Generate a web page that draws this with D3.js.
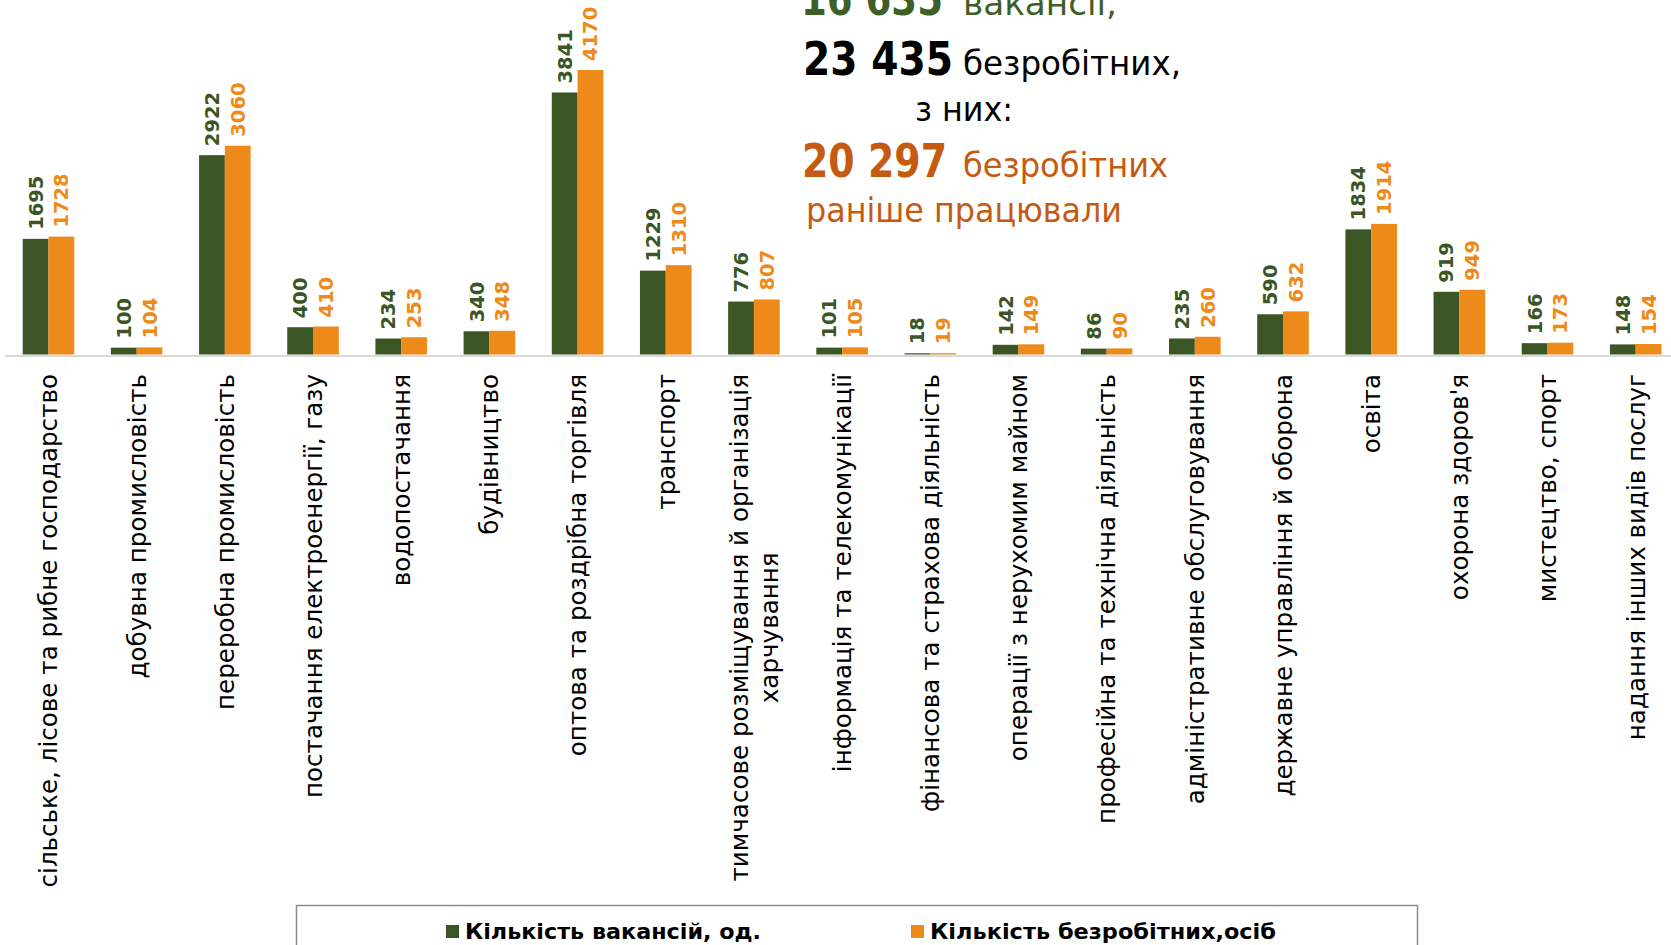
<!DOCTYPE html>
<html>
<head>
<meta charset="utf-8">
<script src="https://cdn.jsdelivr.net/npm/d3@7"></script>
<style>
  body { margin: 0; background: #fff; }
  svg { display: block; }
</style>
</head>
<body>
<div id="chart"></div>
<script>
// categories (| marks a line break in the axis label)
const categories = [
  "сільське, лісове та рибне господарство",
  "добувна промисловість",
  "переробна промисловість",
  "постачання електроенергії, газу",
  "водопостачання",
  "будівництво",
  "оптова та роздрібна торгівля",
  "транспорт",
  "тимчасове розміщування й організація|харчування",
  "інформація та телекомунікації",
  "фінансова та страхова діяльність",
  "операції з нерухомим майном",
  "професійна та технічна діяльність",
  "адміністративне обслуговування",
  "державне управління й оборона",
  "освіта",
  "охорона здоров'я",
  "мистецтво, спорт",
  "надання інших видів послуг"
];
const vacancies = [1695, 100, 2922, 400, 234, 340, 3841, 1229, 776, 101, 18, 142, 86, 235, 590, 1834, 919, 166, 148];
const unemployed = [1728, 104, 3060, 410, 253, 348, 4170, 1310, 807, 105, 19, 149, 90, 260, 632, 1914, 949, 173, 154];
const seriesNames = ["Кількість вакансій, од.", "Кількість безробітних,осіб"];
const seriesColors = ["#3b5624", "#ed8a19"];

const W = 1671, H = 945;
const svg = d3.select("#chart").append("svg")
  .attr("width", W)
  .attr("height", H);

var x = d3.scaleBand()
  .domain(d3.range(categories.length))
  .range([4.4, 1679.8])
  .paddingInner(0.415)
  .paddingOuter(0.2075);
var xs = d3.scaleBand().domain([0, 1]).range([0, x.bandwidth()]);
var y = d3.scaleLinear().domain([0, 5000]).range([354.5, 13.4]);

var rows = categories.map((c, i) => ({ i: i, vals: [vacancies[i], unemployed[i]] }));

// axis line only
svg.append("g")
  .attr("transform", "translate(0," + 355.5 + ")")
  .call(d3.axisBottom(x).tickSize(0).tickFormat(""))
  .call(g => g.select(".domain").attr("stroke", "#d9d9d9").attr("stroke-width", 2));

var groups = svg.append("g").selectAll("g")
  .data(rows)
  .join("g")
  .attr("transform", d => "translate(" + x(d.i) + ",0)");

groups.selectAll("rect")
  .data(d => d.vals.map((v, k) => ({ k: k, v: v })))
  .join("rect")
  .attr("x", d => xs(d.k))
  .attr("width", xs.bandwidth())
  .attr("y", d => y(d.v))
  .attr("height", d => y(0) - y(d.v))
  .attr("fill", d => seriesColors[d.k]);

groups.selectAll("text.val")
  .data(d => d.vals.map((v, k) => ({ k: k, v: v })))
  .join("text")
  .attr("class", "val")
  .attr("transform", d => "translate(" + (xs(d.k) + xs.bandwidth() / 2) + "," + (y(d.v) - 9) + ") rotate(-90)")
  .attr("dy", "0.36em")
  .attr("text-anchor", "start")
  .style("font-family", "'DejaVu Sans', Verdana, sans-serif")
  .style("font-weight", "bold")
  .style("font-size", "19.5px")
  .attr("fill", d => seriesColors[d.k])
  .text(d => d.v);

// category labels, rotated
var catLabels = svg.append("g").selectAll("g")
  .data(rows)
  .join("g")
  .attr("transform", d => "translate(" + (x(d.i) + x.bandwidth() / 2) + ",374) rotate(-90)");

catLabels.each(function(d) {
  var lines = categories[d.i].split("|");
  var g = d3.select(this);
  var n = lines.length;
  var first = g.append("text")
    .attr("text-anchor", "end")
    .attr("x", 0)
    .attr("dy", (0.36 - (n - 1) * 0.6) + "em")
    .style("font-family", "'DejaVu Sans', Verdana, sans-serif")
    .style("font-size", "24.6px")
    .text(lines[0]);
  var L = first.node().getComputedTextLength();
  for (var j = 1; j < n; j++) {
    g.append("text")
      .attr("text-anchor", "middle")
      .attr("x", -L / 2)
      .attr("dy", (0.36 - (n - 1) * 0.6 + j * 1.2) + "em")
      .text(lines[j]);
  }
});
catLabels.selectAll("text")
  .style("font-family", "'DejaVu Sans', Verdana, sans-serif")
  .style("font-size", "24.6px")
  .attr("fill", "#000");

// headline block
var headline = [
  { t: "16 635", x: 801, yb: 15, w: 142, bold: true, size: 46, c: "#3e5f27" },
  { t: "вакансії,", x: 963, yb: 15, w: 154, bold: false, size: 34, c: "#3e5f27" },
  { t: "23 435", x: 803, yb: 75, w: 150, bold: true, size: 46, c: "#000" },
  { t: "безробітних,", x: 963, yb: 75, w: 218, bold: false, size: 34, c: "#000" },
  { t: "з них:", x: 915, yb: 121, w: 98, bold: false, size: 34, c: "#000" },
  { t: "20 297", x: 802, yb: 177, w: 145, bold: true, size: 46, c: "#c55a11" },
  { t: "безробітних", x: 963, yb: 177, w: 205, bold: false, size: 34, c: "#c55a11" },
  { t: "раніше працювали", x: 806, yb: 222, w: 316, bold: false, size: 34, c: "#c55a11" }
];
svg.append("g").selectAll("text")
  .data(headline)
  .join("text")
  .attr("x", d => d.x)
  .attr("y", d => d.yb)
  .attr("textLength", d => d.w)
  .attr("lengthAdjust", "spacingAndGlyphs")
  .style("font-family", "'DejaVu Sans Condensed', 'DejaVu Sans', sans-serif")
  .style("font-weight", d => d.bold ? "bold" : "normal")
  .style("font-size", d => d.size + "px")
  .attr("fill", d => d.c)
  .text(d => d.t);

// legend
var legend = svg.append("g");
legend.append("rect")
  .attr("x", 296.5)
  .attr("y", 905.5)
  .attr("width", 1121)
  .attr("height", 60)
  .attr("fill", "none")
  .attr("stroke", "#8c8c8c")
  .attr("stroke-width", 1.5);

var legX = [446, 911];
var legW = [296, 346];
var items = legend.selectAll("g.item")
  .data(seriesNames)
  .join("g")
  .attr("class", "item")
  .attr("transform", (d, i) => "translate(" + legX[i] + ",925)");
items.append("rect")
  .attr("width", 13)
  .attr("height", 13)
  .attr("fill", (d, i) => seriesColors[i]);
items.append("text")
  .attr("x", 19)
  .attr("y", 14)
  .attr("textLength", (d, i) => legW[i])
  .attr("lengthAdjust", "spacingAndGlyphs")
  .style("font-family", "'DejaVu Sans Condensed', 'DejaVu Sans', sans-serif")
  .style("font-weight", "bold")
  .style("font-size", "21px")
  .attr("fill", "#000")
  .text(d => d);
</script>
</body>
</html>
